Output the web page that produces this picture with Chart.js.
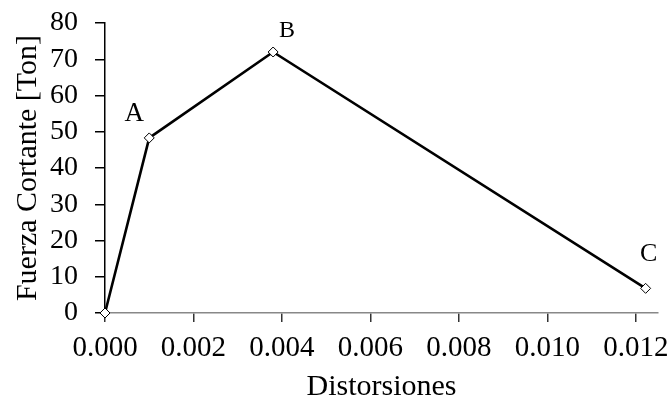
<!DOCTYPE html>
<html>
<head>
<meta charset="utf-8">
<script src="https://cdn.jsdelivr.net/npm/chart.js@4"></script>
<style>
  html, body { margin: 0; padding: 0; background: #fff; }
  #wrap { width: 671px; height: 405px; }
</style>
</head>
<body>
<div id="wrap"><canvas id="chart"></canvas></div>
<script>
const distorsiones = [0, 0.001, 0.0038, 0.01222];
const fuerza = [0, 48.3, 72, 6.8];
const puntoLabels = ['', 'A', 'B', 'C'];
const xTicks = [0, 0.002, 0.004, 0.006, 0.008, 0.010, 0.012];
const yTicks = [0, 10, 20, 30, 40, 50, 60, 70, 80];

const FONT = "'Liberation Serif', 'DejaVu Serif', serif";

// labels A, B, C placed from the data points
const pointLabelPlugin = {
  id: 'pointLabels',
  afterDatasetsDraw(chart) {
    const ctx = chart.ctx;
    const meta = chart.getDatasetMeta(0);
    const offsets = [null, [-15, -24], [14, -21], [3, -34]];
    const sizes = [0, 27, 24, 26];
    ctx.save();
    ctx.fillStyle = '#000';
    ctx.textAlign = 'center';
    ctx.textBaseline = 'middle';
    meta.data.forEach((pt, i) => {
      if (!puntoLabels[i]) return;
      ctx.font = sizes[i] + 'px ' + FONT;
      ctx.fillText(puntoLabels[i], pt.x + offsets[i][0], pt.y + offsets[i][1]);
    });
    ctx.restore();
  }
};

new Chart(document.getElementById('chart'), {
  type: 'scatter',
  data: {
    datasets: [{
      data: distorsiones.map((x, i) => ({ x, y: fuerza[i] })),
      showLine: true,
      clip: false,
      borderColor: '#000',
      borderWidth: 2.6,
      pointStyle: 'rectRot',
      pointRadius: 5,
      pointBackgroundColor: '#fff',
      pointBorderColor: '#000',
      pointBorderWidth: 1,
    }]
  },
  options: {
    responsive: true,
    maintainAspectRatio: false,
    animation: false,
    layout: { padding: { top: 23, right: 13, left: 10, bottom: 0 } },
    plugins: { legend: { display: false }, tooltip: { enabled: false } },
    scales: {
      x: {
        type: 'linear',
        min: 0,
        max: 0.0125,
        afterBuildTicks: (scale) => { scale.ticks = xTicks.map((v) => ({ value: v })); },
        afterFit: (scale) => {
          scale.height = 92;
          scale.paddingLeft = 0;
          scale.paddingRight = 0;
        },
        ticks: {
          callback: (v) => Number(v).toFixed(3),
          color: '#000',
          font: { family: FONT, size: 29 },
          padding: 9,
          maxRotation: 0,
          autoSkip: false,
        },
        grid: { drawOnChartArea: false, drawTicks: true, tickLength: 9, color: '#333', lineWidth: 1.5 },
        border: { color: '#888', width: 1.5 },
        title: {
          display: true,
          text: 'Distorsiones',
          color: '#000',
          font: { family: FONT, size: 30 },
          padding: { top: 0, bottom: 0 },
        },
      },
      y: {
        min: 0,
        max: 80,
        afterBuildTicks: (scale) => { scale.ticks = yTicks.map((v) => ({ value: v })); },
        afterFit: (scale) => {
          scale.width = 95;
          scale.paddingTop = 0;
          scale.paddingBottom = 0;
        },
        ticks: {
          color: '#000',
          font: { family: FONT, size: 28 },
          padding: 17,
          autoSkip: false,
        },
        grid: { drawOnChartArea: false, drawTicks: true, tickLength: 10, color: '#000', lineWidth: 1.5 },
        border: { color: '#000', width: 1.5 },
        title: {
          display: true,
          text: 'Fuerza Cortante [Ton]',
          color: '#000',
          font: { family: FONT, size: 30 },
          padding: { top: 0, bottom: 0 },
        },
      },
    },
  },
  plugins: [pointLabelPlugin],
});
</script>
</body>
</html>
